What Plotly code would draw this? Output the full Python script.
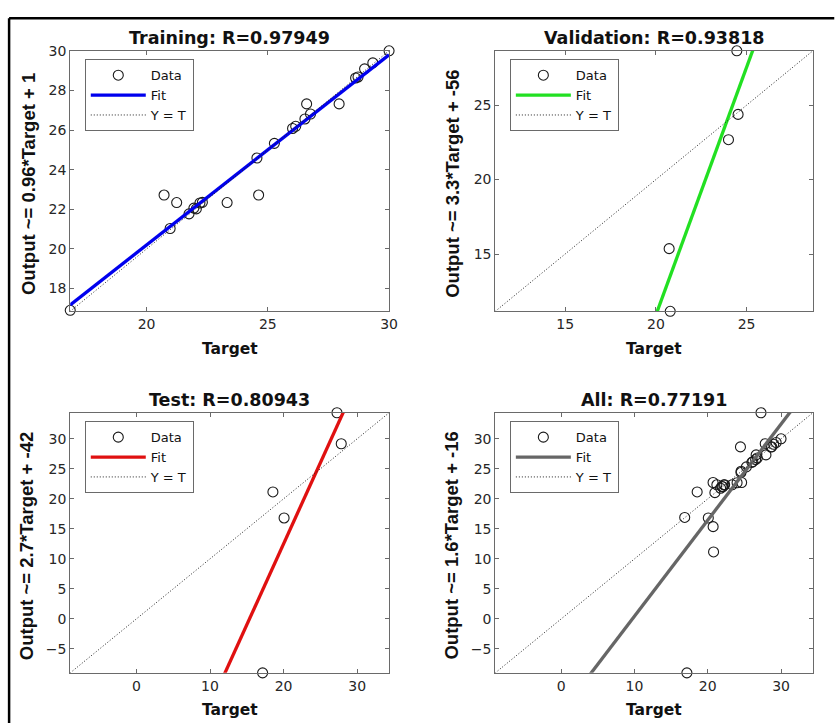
import plotly.graph_objects as go

W, H = 835, 723

# ---------------- data ----------------
train_target = [16.85, 20.72, 20.97, 21.24, 21.75, 21.95, 22.05, 22.20, 22.30, 23.32,
                24.55, 24.62, 25.27, 26.02, 26.15, 26.53, 26.60, 26.76, 27.94, 28.62,
                28.72, 28.99, 29.33, 30.00]
train_output = [16.90, 22.72, 21.03, 22.34, 21.77, 22.06, 22.02, 22.32, 22.35, 22.34,
                24.59, 22.72, 25.33, 26.08, 26.19, 26.56, 27.32, 26.81, 27.32, 28.63,
                28.68, 29.09, 29.39, 30.00]

val_target = [24.46, 24.53, 24.00, 20.73, 20.79]
val_output = [28.65, 24.38, 22.68, 15.36, 11.15]

test_target = [27.26, 27.84, 18.55, 20.07, 17.15]
test_output = [34.34, 29.18, 21.15, 16.81, -9.00]

all_target = train_target + val_target + test_target
all_output = train_output + val_output + test_output

fit_slope = [0.96, 3.33, 2.70, 1.60]
fit_intercept = [1.0, -55.7, -41.5, -15.55]

titles = ["Training: R=0.97949", "Validation: R=0.93818", "Test: R=0.80943", "All: R=0.77191"]
ylabels = ["Output ~= 0.96*Target + 1", "Output ~= 3.3*Target + -56",
           "Output ~= 2.7*Target + -42", "Output ~= 1.6*Target + -16"]
fit_colors = ["#0000ee", "#22e022", "#e01010", "#666666"]
dticks = [(5, 2), (5, 5), (10, 5), (10, 5)]

series = [(train_target, train_output), (val_target, val_output),
          (test_target, test_output), (all_target, all_output)]

# ---------------- layout geometry (pixels) ----------------
# plot boxes: (left, right, top, bottom)
boxes = [(71, 393.3, 43.3, 306.7), (500.7, 821.7, 43.3, 306.7),
         (71, 393.3, 409.3, 672.3), (500.7, 821.7, 409.3, 672.3)]
ytitle_x = [28.3, 456.7, 26.7, 456.7]


def px(x):
    return x / W


def py(y):
    return 1 - y / H


fig = go.Figure()
axis_common = dict(showline=True, mirror="allticks", linecolor="#6a6a6a", linewidth=1,
                   ticks="inside", ticklen=4, tickcolor="#6a6a6a", showgrid=False,
                   zeroline=False, tick0=0,
                   tickfont=dict(family="DejaVu Sans", size=14, color="#262626"))

annotations = []
layout_extra = {}
for i in range(4):
    t, o = series[i]
    lo = min(min(t), min(o))
    hi = max(max(t), max(o))
    xa = "x" if i == 0 else f"x{i+1}"
    ya = "y" if i == 0 else f"y{i+1}"
    lg = "legend" if i == 0 else f"legend{i+1}"
    l, r, tp, b = boxes[i]
    dx, dy = dticks[i]
    layout_extra["xaxis" if i == 0 else f"xaxis{i+1}"] = dict(
        axis_common, domain=[px(l), px(r)], range=[lo, hi], dtick=dx,
        anchor=ya)
    layout_extra["yaxis" if i == 0 else f"yaxis{i+1}"] = dict(
        axis_common, domain=[py(b), py(tp)], range=[lo, hi], dtick=dy,
        anchor=xa)
    layout_extra[lg] = dict(
        x=px(l + 14.7), y=py(tp + 8.5), xanchor="left", yanchor="top",
        bgcolor="white", bordercolor="#6a6a6a", borderwidth=1,
        font=dict(family="DejaVu Sans", size=13, color="#111111"),
        itemwidth=55, tracegroupgap=0)

    fig.add_trace(go.Scatter(
        x=t, y=o, mode="markers", name="Data", xaxis=xa, yaxis=ya, legend=lg,
        cliponaxis=False,
        marker=dict(symbol="circle-open", size=10, color="#1a1a1a",
                    line=dict(width=1.1, color="#1a1a1a"))))
    fx = [lo, hi]
    fy = [fit_slope[i] * v + fit_intercept[i] for v in fx]
    fig.add_trace(go.Scatter(
        x=fx, y=fy, mode="lines", name="Fit", xaxis=xa, yaxis=ya, legend=lg,
        line=dict(color=fit_colors[i], width=3.3)))
    fig.add_trace(go.Scatter(
        x=[lo, hi], y=[lo, hi], mode="lines", name="Y = T", xaxis=xa, yaxis=ya,
        legend=lg, line=dict(color="#222222", width=1, dash="1px,2px")))

    cx = (l + r) / 2
    annotations.append(dict(
        text=titles[i], x=px(cx), y=py(tp - 12.5), xref="paper", yref="paper",
        xanchor="center", yanchor="middle", showarrow=False,
        font=dict(family="DejaVu Sans", size=17.5, color="#111111", weight="bold")))
    annotations.append(dict(
        text="Target", x=px(cx), y=py(b + 38), xref="paper", yref="paper",
        xanchor="center", yanchor="middle", showarrow=False,
        font=dict(family="DejaVu Sans", size=15.5, color="#111111", weight="bold")))
    annotations.append(dict(
        text=ylabels[i], x=px(ytitle_x[i]), y=py((tp + b) / 2 + 3), xref="paper",
        yref="paper", xanchor="center", yanchor="middle", showarrow=False,
        textangle=-90,
        font=dict(family="Liberation Sans", size=18.5, color="#111111", weight="bold")))

shapes = [
    dict(type="line", xref="paper", yref="paper", x0=px(9.2), x1=1.01, y0=py(10.3),
         y1=py(10.3), line=dict(color="black", width=2.5)),
    dict(type="line", xref="paper", yref="paper", x0=px(9.2), x1=px(9.2), y0=py(10.3),
         y1=-0.01, line=dict(color="black", width=2.5)),
]

fig.update_layout(
    width=W, height=H, margin=dict(l=0, r=0, t=0, b=0),
    paper_bgcolor="white", plot_bgcolor="white",
    annotations=annotations, shapes=shapes, **layout_extra)

fig.write_html(
    "out.html",
    config={"displayModeBar": False},
    post_script="document.body.style.margin='0px';document.body.style.overflow='hidden';")
